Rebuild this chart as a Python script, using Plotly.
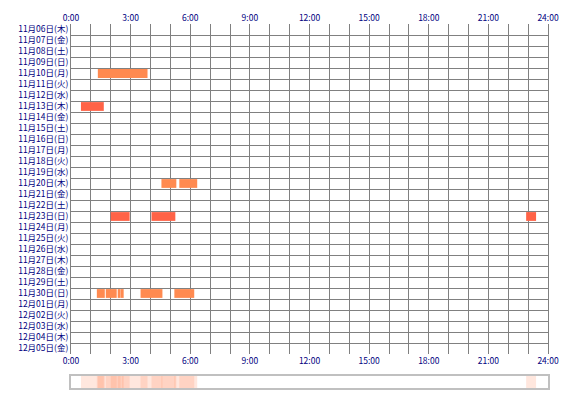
import plotly.graph_objects as go

days = ["11月06日(木)","11月07日(金)","11月08日(土)","11月09日(日)","11月10日(月)","11月11日(火)",
        "11月12日(水)","11月13日(木)","11月14日(金)","11月15日(土)","11月16日(日)","11月17日(月)",
        "11月18日(火)","11月19日(水)","11月20日(木)","11月21日(金)","11月22日(土)","11月23日(日)",
        "11月24日(月)","11月25日(火)","11月26日(水)","11月27日(木)","11月28日(金)","11月29日(土)",
        "11月30日(日)","12月01日(月)","12月02日(火)","12月03日(水)","12月04日(木)","12月05日(金)"]
x_ticks = [0, 3, 6, 9, 12, 15, 18, 21, 24]
x_labels = ["0:00","3:00","6:00","9:00","12:00","15:00","18:00","21:00","24:00"]

# sleep segments: (day index, start hour, end hour, colour group)
seg_day   = [4, 7, 14, 14, 17, 17, 17, 24, 24, 24, 24, 24, 24]
seg_start = [1.35, 0.5, 4.55, 5.45, 2.0, 4.05, 22.9, 1.3, 1.75, 2.35, 2.55, 3.5, 5.2]
seg_end   = [3.85, 1.65, 5.3, 6.35, 2.95, 5.25, 23.4, 1.7, 2.3, 2.5, 2.65, 4.6, 6.2]
seg_kind  = [0, 1, 0, 0, 1, 1, 1, 0, 0, 0, 0, 0, 0]
colors = ["#ff8a50", "#ff6347"]

fig = go.Figure()
for k in (0, 1):
    idx = [i for i in range(len(seg_day)) if seg_kind[i] == k]
    fig.add_trace(go.Bar(orientation="h",
        y=[seg_day[i] + 0.5 for i in idx],
        base=[seg_start[i] for i in idx],
        x=[seg_end[i] - seg_start[i] for i in idx],
        width=0.8, marker=dict(color=colors[k], line=dict(width=0)),
        xaxis="x", yaxis="y", showlegend=False, hoverinfo="skip"))
# summary strip
fig.add_trace(go.Bar(orientation="h",
    y=[0.5] * len(seg_day), base=seg_start,
    x=[e - s for s, e in zip(seg_start, seg_end)],
    width=1, marker=dict(color="rgba(255,120,70,0.18)", line=dict(width=0)),
    xaxis="x3", yaxis="y2", showlegend=False, hoverinfo="skip"))
# dummy for top axis
fig.add_trace(go.Scatter(x=[0, 24], y=[0, 0], mode="markers", marker=dict(opacity=0),
    xaxis="x2", yaxis="y", showlegend=False, hoverinfo="skip"))

font = dict(family="Noto Sans CJK JP", size=8.5, color="#000080")
axx = dict(range=[0, 24], tickvals=x_ticks, ticktext=x_labels, tickfont=font,
           showgrid=False, zeroline=False, ticks="", fixedrange=True, automargin=False,
           minor=dict(tickvals=list(range(25)), showgrid=True, gridcolor="#808080", gridwidth=1))
fig.update_layout(
    width=554, height=384, margin=dict(l=63, r=14, t=16, b=4),
    plot_bgcolor="white", paper_bgcolor="white", barmode="overlay",
    xaxis=dict(axx, anchor="y", side="bottom"),
    xaxis2=dict(axx, overlaying="x", side="top", anchor="y"),
    xaxis3=dict(range=[0, 24], anchor="y2", showticklabels=False, showgrid=False, automargin=False,
                zeroline=False, showline=True, linecolor="#c0c0c0", mirror=True, linewidth=1.5),
    yaxis=dict(domain=[0.0934, 1], range=[30, 0], tickvals=[i + 0.5 for i in range(30)],
               ticktext=days, tickfont=font, showgrid=False, zeroline=False, ticks="",
               automargin=False, showline=True, linecolor="#808080", mirror=True, linewidth=1,
               minor=dict(tickvals=list(range(31)), showgrid=True, gridcolor="#808080", gridwidth=1)),
    yaxis2=dict(domain=[0, 0.033], range=[0, 1], showticklabels=False, showgrid=False, automargin=False,
                zeroline=False, showline=True, linecolor="#c0c0c0", mirror=True, linewidth=1.5),
)
fig.write_html("out.html")
